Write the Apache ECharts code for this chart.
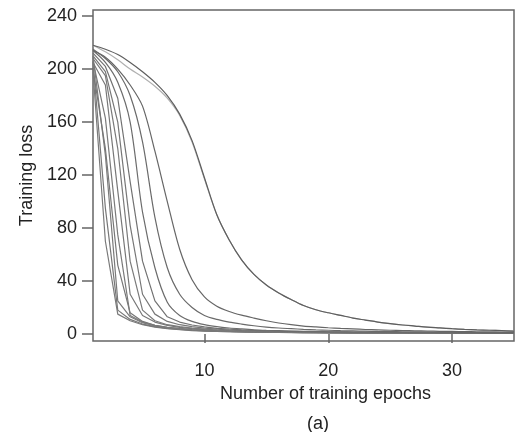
<!DOCTYPE html>
<html>
<head>
<meta charset="utf-8">
<script src="https://cdn.jsdelivr.net/npm/echarts@6/dist/echarts.min.js"></script>
<style>
  html, body { margin: 0; padding: 0; background: #fff; }
  #chart { width: 515px; height: 432px; }
</style>
</head>
<body>
<div id="chart"></div>
<script>
// training epochs (x)
const epochs = [1, 2, 3, 4, 5, 6, 7, 8, 9, 10, 11, 12, 13, 14, 15, 16, 17, 18, 19, 20,
  21, 22, 23, 24, 25, 26, 27, 28, 29, 30, 31, 32, 33, 34, 35]

// loss curves, fastest first
const run1 = [198, 70, 15, 10, 7, 5.2, 4, 3.2, 2.6, 2.2, 1.9, 1.7, 1.5, 1.3, 1.2, 1.1, 1, 0.9, 0.85, 0.8, 0.75, 0.7, 0.7, 0.65, 0.6, 0.6, 0.55, 0.55, 0.5, 0.5, 0.5, 0.45, 0.45, 0.45, 0.4]
const run2 = [205, 95, 18, 11, 7.5, 5.5, 4.3, 3.4, 2.8, 2.4, 2, 1.8, 1.6, 1.4, 1.3, 1.2, 1.1, 1, 0.95, 0.9, 0.85, 0.8, 0.75, 0.7, 0.7, 0.65, 0.6, 0.6, 0.55, 0.55, 0.5, 0.5, 0.5, 0.45, 0.45]
const run3 = [210, 135, 25, 13, 8.5, 6, 4.6, 3.6, 3, 2.5, 2.1, 1.9, 1.7, 1.5, 1.4, 1.3, 1.2, 1.1, 1, 0.95, 0.9, 0.85, 0.8, 0.75, 0.7, 0.7, 0.65, 0.6, 0.6, 0.55, 0.55, 0.5, 0.5, 0.5, 0.45]
const run4 = [200, 140, 52, 16, 9.5, 6.5, 5, 4, 3.2, 2.7, 2.3, 2, 1.8, 1.6, 1.5, 1.4, 1.3, 1.2, 1.1, 1, 0.95, 0.9, 0.85, 0.8, 0.75, 0.7, 0.7, 0.65, 0.6, 0.6, 0.55, 0.55, 0.5, 0.5, 0.5]
const run5 = [206, 163, 75, 14, 9, 6.5, 5, 4, 3.3, 2.8, 2.4, 2.1, 1.9, 1.7, 1.6, 1.5, 1.4, 1.3, 1.2, 1.1, 1, 0.95, 0.9, 0.85, 0.8, 0.75, 0.7, 0.7, 0.65, 0.6, 0.6, 0.55, 0.55, 0.5, 0.5]
const run6 = [205, 188, 108, 30, 14, 9, 6.5, 5, 4, 3.3, 2.8, 2.4, 2.1, 1.9, 1.7, 1.6, 1.5, 1.4, 1.3, 1.2, 1.1, 1, 0.95, 0.9, 0.85, 0.8, 0.75, 0.7, 0.7, 0.65, 0.6, 0.6, 0.55, 0.55, 0.5]
const run7 = [208, 195, 140, 55, 18, 10, 7, 5.5, 4.4, 3.6, 3, 2.6, 2.3, 2.1, 1.9, 1.7, 1.6, 1.5, 1.4, 1.3, 1.2, 1.1, 1, 0.95, 0.9, 0.85, 0.8, 0.75, 0.7, 0.7, 0.65, 0.6, 0.6, 0.55, 0.55]
const run8 = [210, 198, 160, 82, 30, 15, 9.5, 7, 5.5, 4.4, 3.6, 3, 2.6, 2.3, 2.1, 1.9, 1.7, 1.6, 1.5, 1.4, 1.3, 1.2, 1.1, 1, 0.95, 0.9, 0.85, 0.8, 0.75, 0.7, 0.7, 0.65, 0.6, 0.6, 0.55]
const run9 = [212, 202, 178, 115, 55, 25, 13, 9, 6.8, 5.3, 4.3, 3.6, 3.1, 2.7, 2.4, 2.1, 1.9, 1.7, 1.6, 1.5, 1.4, 1.3, 1.2, 1.1, 1, 0.95, 0.9, 0.85, 0.8, 0.75, 0.7, 0.7, 0.65, 0.6, 0.6]
const run10 = [214, 205, 190, 160, 92, 50, 24, 14, 9.5, 7, 5.5, 4.5, 3.8, 3.2, 2.8, 2.5, 2.2, 2, 1.8, 1.7, 1.6, 1.5, 1.4, 1.3, 1.2, 1.1, 1, 0.95, 0.9, 0.85, 0.8, 0.75, 0.7, 0.7, 0.65]
const run11 = [215, 208, 198, 180, 145, 88, 50, 30, 20, 14, 11, 9, 7.5, 6.2, 5.2, 4.5, 4, 3.5, 3.1, 2.8, 2.5, 2.3, 2.1, 1.9, 1.8, 1.7, 1.6, 1.5, 1.4, 1.3, 1.2, 1.1, 1.05, 1, 0.95]
const run12 = [214, 209, 200, 188, 172, 138, 100, 64, 41, 28, 21, 17, 14.2, 12, 10, 8.3, 7, 6, 5.3, 4.7, 4.2, 3.8, 3.4, 3.1, 2.8, 2.6, 2.4, 2.2, 2, 1.9, 1.8, 1.7, 1.6, 1.5, 1.4]
const run13 = [218, 213, 207, 200, 194, 187, 178, 165, 145, 117, 90, 71, 56, 45, 37, 31, 26, 21.5, 18.3, 16, 14, 12, 10.5, 9, 7.8, 6.8, 6, 5.2, 4.6, 4, 3.5, 3.1, 2.8, 2.5, 2.2]
const run14 = [218, 215, 211, 205, 198, 190, 180, 166, 146, 118, 90, 71, 56, 45, 37, 31, 26, 21.5, 18.3, 16, 14, 12, 10.5, 9, 7.8, 6.8, 6, 5.2, 4.6, 4, 3.5, 3.1, 2.8, 2.5, 2.2]

const runs = [run1, run2, run3, run4, run5, run6, run7, run8, run9, run10, run11, run12, run13, run14]
const lineColors = ['#7a7a7a', '#777', '#7a7a7a', '#777', '#7a7a7a', '#777', '#7a7a7a', '#777', '#727272', '#6c6c6c', '#6a6a6a', '#666', '#b0b0b0', '#5e5e5e']

const yTicks = [0, 40, 80, 120, 160, 200, 240]
const xTicks = [10, 20, 30]

const font = 'Liberation Sans, Arial, sans-serif'

const chart = echarts.init(document.getElementById('chart'))

chart.setOption({
  animation: false,
  backgroundColor: '#fff',
  title: {
    text: '(a)',
    left: 313,
    top: 410,
    textAlign: 'center',
    textStyle: { fontFamily: font, fontSize: 18, fontWeight: 'normal', color: '#222' }
  },
  grid: {
    left: 93,
    right: 1,
    top: 10,
    bottom: 91,
    show: true,
    borderColor: '#666',
    borderWidth: 1.5
  },
  xAxis: {
    type: 'value',
    min: 1,
    max: 35,
    name: 'Number of training epochs',
    nameLocation: 'middle',
    nameGap: 42,
    nameTextStyle: { fontFamily: font, fontSize: 18, color: '#222', padding: [0, 0, 0, 44] },
    splitLine: { show: false },
    axisLine: { show: false },
    axisTick: { show: true, length: 9, customValues: xTicks, lineStyle: { color: '#666', width: 1.5 } },
    axisLabel: { customValues: xTicks, margin: 21, fontFamily: font, fontSize: 18, color: '#222' }
  },
  yAxis: {
    type: 'value',
    min: -5.3,
    max: 244.6,
    name: 'Training loss',
    nameLocation: 'middle',
    nameGap: 57,
    nameTextStyle: { fontFamily: font, fontSize: 18, color: '#222' },
    splitLine: { show: false },
    axisLine: { show: false },
    axisTick: { show: true, length: 11, customValues: yTicks, lineStyle: { color: '#666', width: 1.5 } },
    axisLabel: { customValues: yTicks, margin: 16, fontFamily: font, fontSize: 18, color: '#222' }
  },
  series: runs.map((run, i) => ({
    type: 'line',
    data: run.map((v, j) => [epochs[j], v]),
    showSymbol: false,
    // slower runs look smooth in the original, fast ones show kinks
    smooth: i >= 9 ? 0.3 : false,
    lineStyle: { color: lineColors[i], width: 1.2 },
    z: i === 12 ? 1 : 2
  }))
})
</script>
</body>
</html>
